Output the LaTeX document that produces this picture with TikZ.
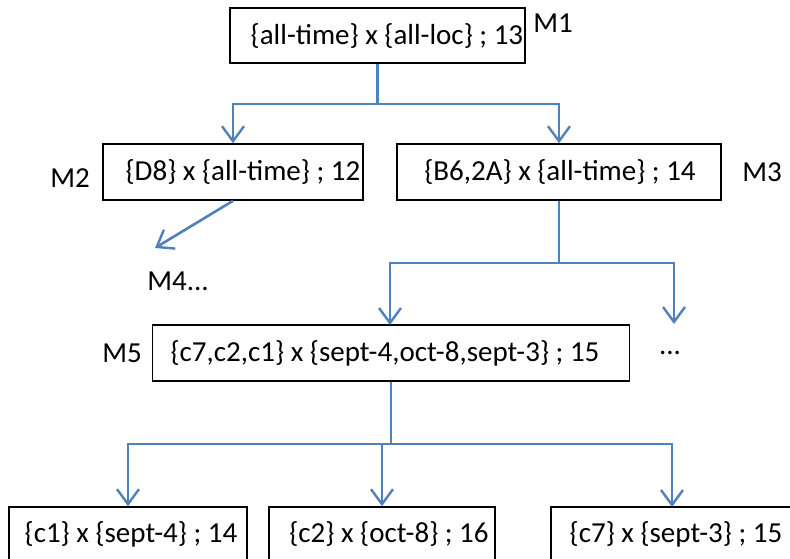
\documentclass[tikz,border=0pt]{standalone}
\usepackage{fontspec}
\setmainfont{Carlito}
\usetikzlibrary{arrows.meta}
\definecolor{conblue}{HTML}{4F81BD}
\begin{document}
\begin{tikzpicture}[x=1pt,y=-1pt,
  boxnode/.style={draw=black,line width=1.6pt,inner sep=0pt},
  txt/.style={inner sep=0pt,font=\fontsize{29}{33}\selectfont},
  conn/.style={draw=conblue,line width=2.6pt},
  arr/.style={conn,-{Straight Barb[length=15pt,width=22pt,line width=2.4pt]}}]
\useasboundingbox (0,0) rectangle (790,559);
\clip (0,0) rectangle (790,559);
\fill[white] (0,0) rectangle (790,559);
% boxes
\node[boxnode,minimum width=295pt,minimum height=55pt] (m1) at (377.5,35.5) {};
\node[boxnode,minimum width=260pt,minimum height=56pt] (m2) at (233,172) {};
\node[boxnode,minimum width=324pt,minimum height=56pt] (m3) at (559,172) {};
\node[boxnode,minimum width=477pt,minimum height=56pt] (m5) at (391,353) {};
\node[boxnode,minimum width=238pt,minimum height=70pt] (b1) at (128,542) {};
\node[boxnode,minimum width=226pt,minimum height=70pt] (b2) at (382,542) {};
\node[boxnode,minimum width=260pt,minimum height=70pt] (b3) at (681,542) {};
% texts
\node[txt] (t1) at (387,36) {\{all-time\} x \{all-loc\} ; 13};
\node[txt] (t2) at (243,172) {\{D8\} x \{all-time\} ; 12};
\node[txt] (t3) at (560,172) {\{B6,2A\} x \{all-time\} ; 14};
\node[txt] (t5) at (385,353) {\{c7,c2,c1\} x \{sept-4,oct-8,sept-3\} ; 15};
\node[txt] (tb1) at (131,534) {\{c1\} x \{sept-4\} ; 14};
\node[txt] (tb2) at (389,534) {\{c2\} x \{oct-8\} ; 16};
\node[txt] (tb3) at (676,534) {\{c7\} x \{sept-3\} ; 15};
% labels
\node[txt] (l1) at (553,23) {M1};
\node[txt] (l2) at (70,178) {M2};
\node[txt] (l3) at (762,172) {M3};
\node[txt] (l4) at (178,281) {M4...};
\node[txt] (l5) at (122,353) {M5};
\node[txt] (ld) at (670,353) {...};
% junctions
\coordinate (j1) at (378,104);
\coordinate (j3) at (560,263);
\coordinate (j5) at (392,444);
\coordinate (m4end) at (155,248);
\coordinate (dotsend) at (674,324);
\coordinate (b3top) at (672,507);
% connectors
\draw[arr] (m1.south) -- (m1.south |- j1) -| (m2.north);
\draw[arr] (m1.south |- j1) -| (m3.north);
\draw[arr] (m2.south) -- (m4end);
\draw[arr] (m3.south) -- (m3.south |- j3) -| (390,325);
\draw[arr] (m3.south |- j3) -| (dotsend);
\draw[arr] (m5.south) -- (m5.south |- j5) -| (b1.north);
\draw[arr] (m5.south |- j5) -| (b2.north);
\draw[arr] (m5.south |- j5) -| (b3top);
\end{tikzpicture}
\end{document}
